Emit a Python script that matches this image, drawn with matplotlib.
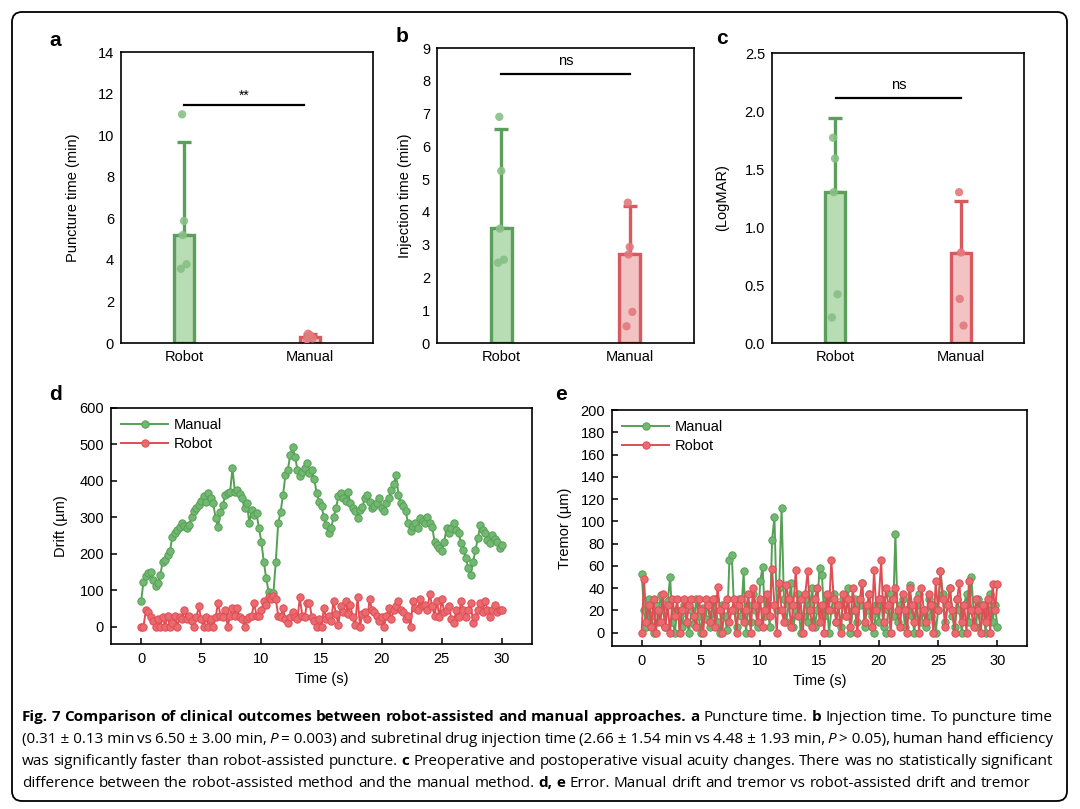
import numpy as np
import matplotlib
matplotlib.use('Agg')
import matplotlib.pyplot as plt
from matplotlib.patches import FancyBboxPatch

plt.rcParams['font.family'] = ['Liberation Sans', 'DejaVu Sans']

# ----------------------------------------------------------------------------------------- #
#                                            Data                                           #
# ----------------------------------------------------------------------------------------- #

groups = ['Robot', 'Manual']

# a - puncture time (min)
puncture_mean = [5.2, 0.31]
puncture_err = [4.45, 0.13]
puncture_pts = [[11.0, 5.87, 5.19, 3.79, 3.57], [0.45, 0.38, 0.31, 0.22, 0.18]]

# b - injection time (min)
injection_mean = [3.52, 2.71]
injection_err = [3.0, 1.48]
injection_pts = [[6.90, 5.25, 3.49, 2.54, 2.45], [4.28, 2.93, 2.70, 0.95, 0.51]]

# c - visual acuity (LogMAR)
logmar_mean = [1.30, 0.78]
logmar_err = [0.64, 0.44]
logmar_pts = [[1.77, 1.59, 1.30, 0.42, 0.22], [1.30, 0.78, 0.38, 0.15]]

# d - drift (um), sampled every 0.2 s
drift_manual = [
    69, 123, 140, 146, 151, 128, 112, 119, 142, 178,
    183, 197, 206, 247, 258, 265, 274, 283, 276, 270,
    279, 302, 318, 325, 334, 345, 357, 343, 366, 352,
    338, 297, 274, 315, 334, 361, 366, 370, 434, 370,
    375, 363, 352, 325, 338, 283, 320, 306, 311, 270,
    233, 178, 133, 96, 87, 91, 178, 283, 315, 361,
    416, 430, 471, 494, 466, 430, 412, 425, 434, 448,
    421, 430, 405, 366, 343, 330, 300, 279, 256, 270,
    300, 325, 357, 366, 352, 345, 370, 338, 325, 316,
    297, 320, 329, 352, 361, 343, 325, 330, 338, 352,
    325, 316, 340, 352, 375, 390, 416, 361, 338, 330,
    316, 283, 261, 275, 283, 270, 297, 290, 283, 302,
    285, 274, 233, 224, 215, 206, 233, 270, 256, 270,
    283, 265, 256, 229, 210, 188, 160, 142, 178, 210,
    242, 279, 265, 256, 238, 229, 251, 240, 233, 215,
    224,
]
drift_robot = [
    0, 0, 45, 40, 25, 15, 0, 20, 0, 25,
    0, 30, 0, 10, 30, 0, 25, 20, 45, 20,
    30, 15, 0, 25, 55, 20, 0, 25, 0, 20,
    0, 25, 65, 30, 25, 45, 0, 30, 50, 30,
    50, 25, 20, 0, 20, 25, 30, 65, 30, 30,
    45, 70, 60, 80, 75, 85, 75, 30, 25, 50,
    20, 10, 25, 40, 25, 20, 80, 30, 25, 65,
    65, 25, 15, 0, 20, 0, 50, 20, 30, 15,
    70, 35, 5, 55, 40, 70, 35, 60, 25, 5,
    80, 0, 35, 40, 20, 75, 45, 40, 30, 15,
    25, 0, 30, 50, 20, 45, 55, 70, 45, 40,
    20, 30, 0, 70, 50, 45, 75, 55, 60, 45,
    90, 55, 30, 70, 25, 75, 40, 45, 55, 20,
    10, 45, 25, 70, 45, 25, 45, 65, 10, 25,
    45, 65, 40, 70, 45, 25, 45, 60, 40, 45,
    45,
]

# e - tremor (um), sampled every 0.2 s
tremor_manual = [
    53, 20, 5, 30, 15, 0, 25, 10, 34, 20,
    5, 28, 50, 10, 0, 20, 15, 5, 25, 10,
    0, 20, 8, 30, 15, 0, 22, 12, 28, 5,
    18, 30, 10, 0, 25, 15, 2, 65, 70, 20,
    5, 30, 15, 55, 0, 25, 10, 35, 20, 5,
    46, 59, 15, 30, 5, 83, 104, 20, 40, 112,
    30, 10, 25, 45, 5, 20, 35, 0, 15, 30,
    10, 25, 40, 5, 20, 58, 52, 15, 30, 0,
    20, 35, 10, 25, 5, 30, 15, 40, 0, 20,
    30, 10, 25, 45, 5, 20, 35, 15, 0, 25,
    10, 30, 5, 0, 20, 35, 15, 89, 10, 25,
    30, 5, 20, 43, 15, 0, 25, 35, 10, 20,
    5, 30, 15, 25, 0, 20, 55, 35, 10, 25,
    40, 15, 5, 30, 20, 0, 25, 35, 10, 50,
    20, 5, 30, 15, 25, 0, 20, 35, 10, 25,
    5,
]
tremor_robot = [
    0, 48, 10, 25, 5, 30, 0, 20, 10, 35,
    5, 25, 0, 30, 15, 30, 0, 20, 30, 10,
    25, 30, 15, 5, 30, 20, 0, 30, 25, 10,
    30, 5, 41, 20, 0, 25, 30, 10, 20, 30,
    0, 25, 30, 10, 20, 35, 0, 40, 25, 10,
    30, 5, 20, 35, 15, 57, 25, 0, 45, 20,
    10, 43, 30, 5, 25, 56, 15, 30, 0, 35,
    55, 20, 5, 30, 40, 10, 25, 0, 35, 20,
    65, 30, 10, 25, 0, 35, 15, 30, 5, 40,
    20, 0, 30, 45, 10, 25, 35, 5, 56, 20,
    30, 65, 10, 40, 25, 0, 30, 40, 20, 5,
    35, 20, 0, 40, 25, 10, 30, 0, 40, 20,
    10, 35, 25, 0, 46, 20, 55, 30, 5, 25,
    40, 20, 0, 30, 45, 10, 25, 0, 46, 20,
    5, 30, 20, 0, 25, 10, 30, 0, 44, 20,
    44,
]
sample_dt = 0.2

caption_lines = [
    [("Fig. 7 Comparison of clinical outcomes between robot-assisted and manual approaches.", 'b'),
     ("a", 'b'), ("Puncture time.", 'r'), ("b", 'b'), ("Injection time. To puncture time", 'r')],
    [("(0.31\u00a0±\u00a00.13\u00a0min vs 6.50\u00a0±\u00a03.00\u00a0min,", 'r'), ("P", 'i'),
     ("=\u00a00.003) and subretinal drug injection time (2.66\u00a0±\u00a01.54\u00a0min vs "
      "4.48\u00a0±\u00a01.93\u00a0min,", 'r'), ("P", 'i'), (">\u00a00.05), human hand efficiency", 'r')],
    [("was significantly faster than robot-assisted puncture.", 'r'), ("c", 'b'),
     ("Preoperative and postoperative visual acuity changes. There was no statistically significant", 'r')],
    [("difference between the robot-assisted method and the manual method.", 'r'), ("d, e", 'b'),
     ("Error. Manual drift and tremor vs robot-assisted drift and tremor", 'r')],
]

# ----------------------------------------------------------------------------------------- #
#                                           Styling                                         #
# ----------------------------------------------------------------------------------------- #

EDGE = ['#5c9e5c', '#d95a5e']
FILL = ['#b8dcb3', '#f3c3c3']
DOT = ['#86c086', '#e27a7e']
JITTER = [-0.015, 0.0, -0.01, 0.02, -0.025]
LINE_G = '#55a055'
LINE_R = '#de4e54'
FS = 10.5

W, H = 1080, 809
fig = plt.figure(figsize=(W / 100, H / 100), dpi=100)


def rect(l, r, t, b):
    return [l / W, 1 - b / H, (r - l) / W, (b - t) / H]


def bar_panel(ax, means, errs, pts_list, ylim, ylabel, labelpad):
    x = np.arange(len(groups))
    for i in range(len(groups)):
        ax.bar(x[i], means[i], width=0.16, color=FILL[i], edgecolor=EDGE[i],
               linewidth=2.4, zorder=2)
        ax.errorbar(x[i], means[i], yerr=[[0], [errs[i]]], fmt='none', ecolor=EDGE[i],
                    elinewidth=2.4, capsize=5, capthick=2.4, zorder=1)
        pts = np.array(pts_list[i])
        ax.scatter(x[i] + np.array(JITTER[:len(pts)]), pts, s=36, color=DOT[i],
                   alpha=0.9, edgecolors='none', zorder=3)
    ax.set_xlim(-0.5, 1.5)
    ax.set_ylim(*ylim)
    ax.set_xticks(x)
    ax.set_xticklabels(groups)
    ax.tick_params(length=0, labelsize=FS, pad=5)
    ax.set_ylabel(ylabel, fontsize=FS, labelpad=labelpad)
    for s in ax.spines.values():
        s.set_linewidth(1.2)


def sig(ax, x0, x1, y, text, ty, fs):
    ax.plot([x0, x1], [y, y], color='black', lw=1.6)
    ax.text((x0 + x1) / 2, ty, text, ha='center', va='center', fontsize=fs)


# a
ax_a = fig.add_axes(rect(121, 373, 52, 343))
bar_panel(ax_a, puncture_mean, puncture_err, puncture_pts, (0, 14), 'Puncture time (min)', 13)
ax_a.set_yticks(np.arange(0, 15, 2))
sig(ax_a, 0.0, 0.95, 11.43, '**', 11.9, 10)

# b
ax_b = fig.add_axes(rect(437, 694, 48, 343))
bar_panel(ax_b, injection_mean, injection_err, injection_pts, (0, 9), 'Injection time (min)', 7)
ax_b.set_yticks(np.arange(0, 10, 1))
sig(ax_b, 0.0, 1.0, 8.22, 'ns', 8.6, FS)

# c
ax_c = fig.add_axes(rect(772, 1024, 53, 343))
bar_panel(ax_c, logmar_mean, logmar_err, logmar_pts, (0, 2.5), '(LogMAR)', 11)
ax_c.set_yticks(np.arange(0, 2.51, 0.5))
ax_c.set_yticklabels([f'{v:.1f}' for v in np.arange(0, 2.51, 0.5)])
sig(ax_c, 0.01, 1.0, 2.108, 'ns', 2.22, FS)


def line_panel(ax, manual, robot, ylim, yticks, ylabel, labelpad):
    t_m = np.arange(len(manual)) * sample_dt
    t_r = np.arange(len(robot)) * sample_dt
    ax.plot(t_m, manual, color=LINE_G, lw=1.4, marker='o', ms=5.3,
            mfc='#72b872', mec=LINE_G, mew=0.7, label='Manual')
    ax.plot(t_r, robot, color=LINE_R, lw=1.4, marker='o', ms=5.3,
            mfc='#ea6a6f', mec=LINE_R, mew=0.7, label='Robot')
    ax.set_xlim(-2.5, 32.5)
    ax.set_ylim(*ylim)
    ax.set_xticks(np.arange(0, 31, 5))
    ax.set_yticks(yticks)
    ax.tick_params(direction='in', length=4, width=1.1, labelsize=FS, pad=5)
    ax.tick_params(axis='x', pad=6)
    ax.set_xlabel('Time (s)', fontsize=FS, labelpad=4)
    ax.set_ylabel(ylabel, fontsize=FS, labelpad=labelpad)
    for s in ax.spines.values():
        s.set_linewidth(1.2)
    ax.legend(loc='upper left', frameon=False, fontsize=FS, handlelength=3.2,
              handletextpad=0.4, labelspacing=0.35, borderaxespad=0.3,
              bbox_to_anchor=(0.0, 1.0))


# d
ax_d = fig.add_axes(rect(111, 532, 408, 644))
line_panel(ax_d, drift_manual, drift_robot, (-48, 600), np.arange(0, 601, 100),
           'Drift (\u00b5m)', 8)

# e
ax_e = fig.add_axes(rect(612, 1027, 410, 646))
line_panel(ax_e, tremor_manual, tremor_robot, (-12, 200), np.arange(0, 201, 20),
           'Tremor (\u00b5m)', 6)

# panel letters
for letter, (px, py) in zip('abcde', [(55, 41), (402, 37), (722, 38), (56, 394), (561, 394)]):
    fig.text(px / W, 1 - py / H, letter, ha='center', va='center',
             fontsize=15, fontweight='bold')

# outer rounded frame
frame = FancyBboxPatch((0.12, 0.08), 10.55, 7.89, boxstyle='round,pad=0,rounding_size=0.1',
                       transform=fig.dpi_scale_trans, fill=False, edgecolor='black', lw=1.3)
fig.patches.append(frame)

# ----------------------------------------------------------------------------------------- #
#                                  Caption (justified text)                                 #
# ----------------------------------------------------------------------------------------- #

renderer = fig.canvas.get_renderer()
CAP_FONT = ['Open Sans', 'DejaVu Sans']


def make_word(word, style, size):
    return fig.text(0, 0, word, fontsize=size, family=CAP_FONT,
                    fontweight='bold' if style == 'b' else 'normal',
                    fontstyle='italic' if style == 'i' else 'normal',
                    va='baseline', ha='left')


def words_of(line):
    out = []
    for seg, style in line:
        out += [(w, style) for w in seg.split(' ') if w]
    return out


def text_width(t):
    return t.get_window_extent(renderer=renderer).width


# pick a size so the last (unjustified) line spans the same width as in the figure
probe = [make_word(w, s, 10) for w, s in words_of(caption_lines[3])]
sp = make_word('a a', 'r', 10)
sp2 = make_word('aa', 'r', 10)
space10 = text_width(sp) - text_width(sp2)
natural = sum(text_width(t) for t in probe) + space10 * (len(probe) - 1)
for t in probe + [sp, sp2]:
    t.remove()
cap_size = 10 * 1008 / natural

x_left, x_right = 22, 1053
baselines = [721, 743, 765, 787]
for k, line in enumerate(caption_lines):
    words = words_of(line)
    objs = [make_word(w, s, cap_size) for w, s in words]
    widths = [text_width(t) for t in objs]
    if k < len(caption_lines) - 1:
        gap = (x_right - x_left - sum(widths)) / (len(objs) - 1)
    else:
        gap = space10 * cap_size / 10
    x = x_left
    for t, w in zip(objs, widths):
        t.set_position((x / W, 1 - baselines[k] / H))
        x += w + gap

fig.savefig('out.png', dpi=100)
